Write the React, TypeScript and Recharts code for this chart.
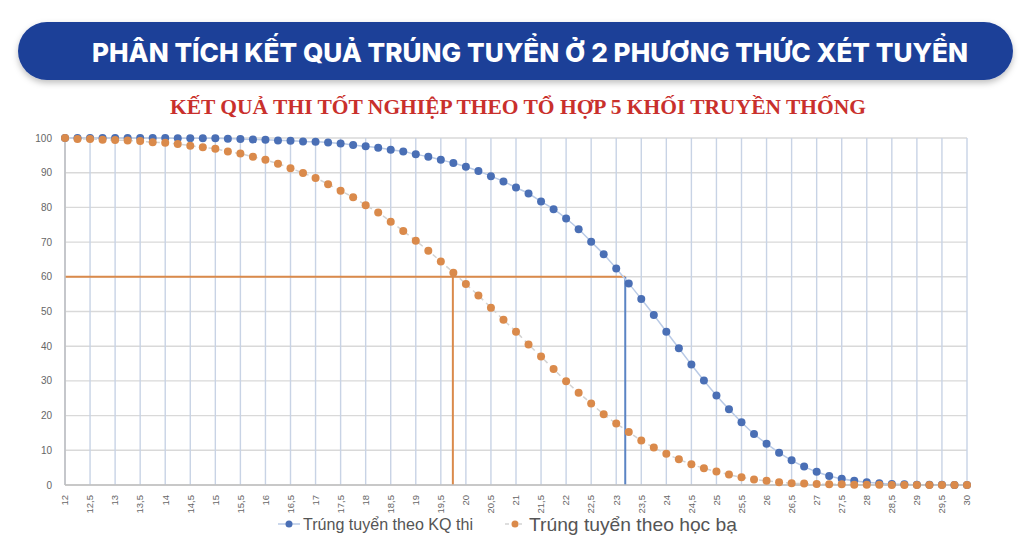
import React from 'react';
import {
  LineChart,
  Line,
  XAxis,
  YAxis,
  CartesianGrid,
  ReferenceLine,
} from 'recharts';

// Điểm xét tuyển (bước 0,25)
const SCORES = [
  12, 12.25, 12.5, 12.75, 13, 13.25, 13.5, 13.75, 14, 14.25, 14.5, 14.75,
  15, 15.25, 15.5, 15.75, 16, 16.25, 16.5, 16.75, 17, 17.25, 17.5, 17.75,
  18, 18.25, 18.5, 18.75, 19, 19.25, 19.5, 19.75, 20, 20.25, 20.5, 20.75,
  21, 21.25, 21.5, 21.75, 22, 22.25, 22.5, 22.75, 23, 23.25, 23.5, 23.75,
  24, 24.25, 24.5, 24.75, 25, 25.25, 25.5, 25.75, 26, 26.25, 26.5, 26.75,
  27, 27.25, 27.5, 27.75, 28, 28.25, 28.5, 28.75, 29, 29.25, 29.5, 29.75, 30,
];

// Trúng tuyển theo KQ thi (%)
const KQ_THI = [
  100, 100, 100, 100, 100, 100, 100, 100, 100, 99.9, 99.9, 99.9,
  99.9, 99.8, 99.7, 99.6, 99.5, 99.3, 99.2, 99.0, 98.9, 98.7, 98.4, 98.0,
  97.6, 97.2, 96.6, 96.1, 95.3, 94.6, 93.7, 92.8, 91.7, 90.5, 89.0, 87.5,
  85.7, 84.0, 81.7, 79.5, 76.8, 73.7, 70.1, 66.5, 62.4, 58.1, 53.6, 49.0,
  44.2, 39.4, 34.7, 30.1, 25.8, 21.8, 18.1, 14.7, 11.9, 9.3, 7.1, 5.3,
  3.8, 2.6, 1.8, 1.2, 0.8, 0.5, 0.3, 0.2, 0.1, 0.1, 0.05, 0, 0,
];

// Trúng tuyển theo học bạ (%)
const HOC_BA = [
  100, 99.7, 99.7, 99.5, 99.4, 99.3, 99.1, 98.8, 98.6, 98.3, 97.8, 97.3,
  96.9, 96.1, 95.5, 94.6, 93.7, 92.6, 91.3, 89.9, 88.5, 86.7, 84.8, 82.9,
  80.6, 78.5, 75.9, 73.2, 70.4, 67.5, 64.4, 61.2, 57.9, 54.6, 51.1, 47.6,
  44.2, 40.5, 37.0, 33.4, 29.9, 26.6, 23.5, 20.4, 17.7, 15.3, 12.8, 10.8,
  9.0, 7.4, 6.0, 4.8, 3.9, 3.0, 2.2, 1.6, 1.2, 0.8, 0.5, 0.4,
  0.3, 0.2, 0.2, 0.1, 0.1, 0.05, 0, 0, 0, 0, 0, 0, 0,
];

const X_TICKS = [
  12, 12.5, 13, 13.5, 14, 14.5, 15, 15.5, 16, 16.5, 17, 17.5, 18, 18.5, 19,
  19.5, 20, 20.5, 21, 21.5, 22, 22.5, 23, 23.5, 24, 24.5, 25, 25.5, 26, 26.5,
  27, 27.5, 28, 28.5, 29, 29.5, 30,
];
const Y_TICKS = [0, 10, 20, 30, 40, 50, 60, 70, 80, 90, 100];

// Ngưỡng 60% và điểm cắt tương ứng
const CUT_PERCENT = 60;
const CUT_HOC_BA = 19.74;
const CUT_KQ_THI = 23.18;

const BLUE = '#4A6FB5';
const ORANGE = '#DA8A4B';

const chartData = SCORES.map((x, i) => ({ x, kq: KQ_THI[i], hb: HOC_BA[i] }));

function XTick({ x, y, payload }: any) {
  const label = String(payload.value).replace('.', ',');
  const ty = y + 2;
  return (
    <text
      x={x}
      y={ty}
      dy={3.3}
      transform={`rotate(-90, ${x}, ${ty})`}
      textAnchor="end"
      fontSize={9.5}
      fill="#666"
      fontFamily="'Liberation Sans', Arial, sans-serif"
    >
      {label}
    </text>
  );
}

export default function App() {
  return (
    <div
      style={{
        position: 'absolute',
        left: 0,
        top: 0,
        width: 1020,
        height: 548,
        background: '#fff',
        overflow: 'hidden',
      }}
    >
      <LineChart
        width={1020}
        height={548}
        data={chartData}
        margin={{ top: 138, right: 53, left: 0, bottom: 0 }}
      >
        <CartesianGrid vertical={false} stroke="#D9D9D9" strokeWidth={1.4} />
        <CartesianGrid horizontal={false} stroke="#C8D3E5" strokeWidth={1.4} />
        <XAxis
          dataKey="x"
          type="number"
          domain={[12, 30]}
          ticks={X_TICKS}
          interval={0}
          height={63}
          tickLine={false}
          axisLine={{ stroke: '#BFBFBF', strokeWidth: 1.5 }}
          tick={<XTick />}
        />
        <YAxis
          type="number"
          domain={[0, 100]}
          ticks={Y_TICKS}
          width={65}
          tickLine={false}
          axisLine={{ stroke: '#BFBFBF', strokeWidth: 1.5 }}
          tickMargin={7}
          tick={{
            fontSize: 10,
            fill: '#666',
            fontFamily: "'Liberation Sans', Arial, sans-serif",
          }}
        />
        <ReferenceLine
          segment={[
            { x: 12, y: CUT_PERCENT },
            { x: CUT_KQ_THI, y: CUT_PERCENT },
          ]}
          stroke={ORANGE}
          strokeWidth={2}
        />
        <ReferenceLine
          segment={[
            { x: CUT_HOC_BA, y: CUT_PERCENT },
            { x: CUT_HOC_BA, y: 0 },
          ]}
          stroke={ORANGE}
          strokeWidth={2}
        />
        <ReferenceLine
          segment={[
            { x: CUT_KQ_THI, y: CUT_PERCENT },
            { x: CUT_KQ_THI, y: 0 },
          ]}
          stroke="#5B84C4"
          strokeWidth={2}
        />
        <Line
          dataKey="kq"
          type="monotone"
          stroke="#B9CAE6"
          strokeWidth={1.5}
          dot={{ r: 4, fill: BLUE, stroke: BLUE, strokeWidth: 0 }}
          isAnimationActive={false}
        />
        <Line
          dataKey="hb"
          type="monotone"
          stroke="#D3D3D3"
          strokeWidth={1.5}
          strokeDasharray="5 4"
          dot={{ r: 4, fill: ORANGE, stroke: ORANGE, strokeWidth: 0 }}
          isAnimationActive={false}
        />
      </LineChart>

      {/* tiêu đề + chú thích */}
      <svg
        width={1020}
        height={548}
        style={{ position: 'absolute', left: 0, top: 0, pointerEvents: 'none' }}
      >
        <defs>
          <filter id="shadow" x="-5%" y="-30%" width="110%" height="170%">
            <feDropShadow dx="0" dy="3" stdDeviation="3" floodColor="#000" floodOpacity="0.25" />
          </filter>
        </defs>
        <rect x={18} y={22} width={995} height={58} rx={29} fill="#1B3F98" filter="url(#shadow)" />
        <text
          x={92}
          y={62}
          textLength={876}
          lengthAdjust="spacingAndGlyphs"
          fontSize={26}
          fontWeight={800}
          fill="#fff"
          fontFamily="Inter, 'Open Sans', sans-serif"
        >
          PHÂN TÍCH KẾT QUẢ TRÚNG TUYỂN Ở 2 PHƯƠNG THỨC XÉT TUYỂN
        </text>
        <text
          x={170}
          y={114}
          textLength={696}
          lengthAdjust="spacingAndGlyphs"
          fontSize={22}
          fontWeight={700}
          fill="#C9302C"
          fontFamily="'Liberation Serif', 'Times New Roman', serif"
        >
          KẾT QUẢ THI TỐT NGHIỆP THEO TỔ HỢP 5 KHỐI TRUYỀN THỐNG
        </text>

        {/* legend */}
        <line x1={278} y1={524} x2={300} y2={524} stroke="#B9CAE6" strokeWidth={1.5} />
        <circle cx={289} cy={524} r={3.5} fill={BLUE} />
        <text
          x={303}
          y={530}
          textLength={170}
          lengthAdjust="spacingAndGlyphs"
          fontSize={16}
          fill="#555"
          fontFamily="'Liberation Sans', Arial, sans-serif"
        >
          Trúng tuyển theo KQ thi
        </text>
        <line x1={505} y1={524} x2={522} y2={524} stroke="#D3D3D3" strokeWidth={1.5} strokeDasharray="4 3" />
        <circle cx={515} cy={524} r={3.5} fill={ORANGE} />
        <text
          x={529}
          y={531}
          textLength={208}
          lengthAdjust="spacingAndGlyphs"
          fontSize={19}
          fill="#555"
          fontFamily="'Liberation Sans', Arial, sans-serif"
        >
          Trúng tuyển theo học bạ
        </text>
      </svg>
    </div>
  );
}
